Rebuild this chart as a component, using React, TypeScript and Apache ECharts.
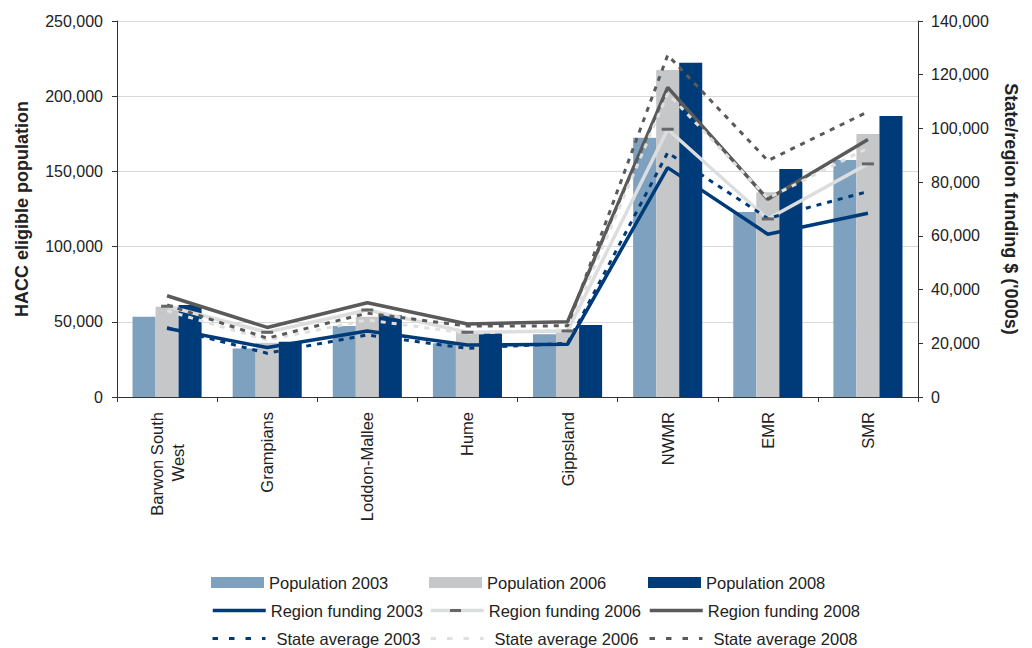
import React, { useEffect, useRef } from "react";
import * as echarts from "echarts";

const categories = ["Barwon South\nWest", "Grampians", "Loddon-Mallee", "Hume", "Gippsland", "NWMR", "EMR", "SMR"];

const pop2003 = [53300, 32300, 47200, 35700, 41700, 172400, 123000, 157600];
const pop2006 = [60000, 36000, 53400, 43400, 44000, 217400, 136100, 174900];
const pop2008 = [61200, 36700, 54500, 43400, 47900, 222300, 151600, 186800];

const region2003 = [25600, 18400, 24600, 19400, 19600, 85400, 60600, 68400];
const region2006 = [33800, 24100, 32400, 24100, 24600, 99700, 66300, 86800];
const region2008 = [37700, 25900, 35100, 27200, 28000, 115300, 73600, 95900];

const state2003 = [25800, 16300, 23100, 18100, 20000, 91000, 66500, 76500];
const state2006 = [32100, 21200, 28700, 23700, 25000, 113000, 74000, 92700];
const state2008 = [34300, 21900, 31200, 26400, 26500, 127300, 88000, 106200];

const leftTicks = { min: 0, max: 250000, interval: 50000 };
const rightTicks = { min: 0, max: 140000, interval: 20000 };

const FONT = "'Liberation Sans', Arial, sans-serif";
const C_LBLUE = "#7fa1c0";
const C_GRAY = "#c6c7c9";
const C_DBLUE = "#003b79";
const C_DGRAY = "#5a5a5a";
const C_LGRAY = "#dcdddf";
const NBSP = "\u00a0";

export default function App() {
  const ref = useRef<HTMLDivElement>(null);
  useEffect(() => {
    if (!ref.current) return;
    const chart = echarts.init(ref.current, null, { renderer: "svg" });
    const fmt = (v: number) => v.toLocaleString("en-US");
    const cols = [211, 429, 648];
    const rows = [574, 602, 630];
    const legendDefs = [
      { name: "Population 2003", c: 0, r: 0, kind: "bar" },
      { name: "Population 2006", c: 1, r: 0, kind: "bar" },
      { name: "Population 2008", c: 2, r: 0, kind: "bar" },
      { name: "Region funding 2003", c: 0, r: 1, kind: "solid" },
      { name: "Region funding 2006", c: 1, r: 1, kind: "solid" },
      { name: "Region funding 2008", c: 2, r: 1, kind: "solid" },
      { name: "State average 2003", c: 0, r: 2, kind: "dash" },
      { name: "State average 2006", c: 1, r: 2, kind: "dash" },
      { name: "State average 2008", c: 2, r: 2, kind: "dash" },
    ];
    const legends = legendDefs.map((d) => {
      const base: any = {
        left: cols[d.c],
        top: rows[d.r],
        padding: 0,
        itemWidth: 53,
        itemGap: 0,
        textStyle: {
          fontFamily: FONT,
          fontSize: 16.5,
          color: "#222",
          padding: d.kind === "dash" ? [0, 0, 0, 6] : [0, 0, 0, 0],
        },
        selectedMode: false,
      };
      if (d.kind === "bar") {
        return { ...base, data: [{ name: d.name, icon: "rect" }], itemHeight: 11 };
      }
      return {
        ...base,
        data: [{ name: d.name }],
        itemHeight: 14,
        itemStyle: { color: "transparent", borderWidth: 0, opacity: 0 },
        lineStyle: d.kind === "dash" ? { type: [5.5, 11], width: 3 } : { width: 3.5 },
      };
    });
    const lineSeries = (name: string, data: number[], color: string, type: any, width: number) => ({
      name,
      type: "line",
      yAxisIndex: 1,
      data,
      symbol: "none",
      lineStyle: { color, width, type },
      itemStyle: { color },
    });
    chart.setOption({
      animation: false,
      textStyle: { fontFamily: FONT },
      grid: { left: 117, right: 114, top: 21, bottom: 251 },
      legend: legends,
      graphic: [
        { type: "rect", left: 450, top: 609, shape: { width: 11, height: 3 }, style: { fill: "#666666" }, z: 100 },
      ],
      xAxis: {
        type: "category",
        data: categories,
        axisLine: { lineStyle: { color: "#333", width: 1 } },
        axisTick: { show: true, alignWithLabel: false, length: 5, lineStyle: { color: "#333" } },
        axisLabel: {
          rotate: 90,
          fontSize: 16.5,
          color: "#222",
          margin: 15,
          fontFamily: FONT,
          interval: 0,
          lineHeight: 21,
          formatter: (v: string) => {
            if (v.indexOf("\n") >= 0) {
              const parts = v.split("\n");
              return parts[0] + "\n" + parts[1] + NBSP.repeat(7);
            }
            return v;
          },
        },
      },
      yAxis: [
        {
          type: "value",
          ...leftTicks,
          position: "left",
          name: "HACC eligible population",
          nameLocation: "middle",
          nameRotate: 90,
          nameGap: 86,
          nameTextStyle: { fontSize: 18, fontWeight: "bold", color: "#222", fontFamily: FONT },
          axisLine: { show: true, lineStyle: { color: "#333" } },
          axisTick: { show: true, length: 5, lineStyle: { color: "#333" } },
          axisLabel: { formatter: fmt, fontSize: 16, color: "#222", margin: 14, fontFamily: FONT },
          splitLine: { show: true, lineStyle: { color: "#d9d9d9", width: 1 } },
        },
        {
          type: "value",
          ...rightTicks,
          position: "right",
          name: "State/region funding $ ('000s)",
          nameLocation: "middle",
          nameRotate: -90,
          nameGap: 84,
          nameTextStyle: { fontSize: 18, fontWeight: "bold", color: "#222", fontFamily: FONT },
          axisLine: { show: true, lineStyle: { color: "#333" } },
          axisTick: { show: true, length: 5, lineStyle: { color: "#333" } },
          axisLabel: { formatter: fmt, fontSize: 16, color: "#222", margin: 13, fontFamily: FONT },
          splitLine: { show: false },
        },
      ],
      series: [
        { name: "Population 2003", type: "bar", data: pop2003, itemStyle: { color: C_LBLUE }, barGap: "0%", barCategoryGap: "31%" },
        { name: "Population 2006", type: "bar", data: pop2006, itemStyle: { color: C_GRAY }, barGap: "0%", barCategoryGap: "31%" },
        { name: "Population 2008", type: "bar", data: pop2008, itemStyle: { color: C_DBLUE }, barGap: "0%", barCategoryGap: "31%" },
        lineSeries("Region funding 2003", region2003, C_DBLUE, "solid", 3.5),
        {
          name: "Region funding 2006",
          type: "line",
          yAxisIndex: 1,
          data: region2006,
          symbol: "rect",
          symbolSize: [12, 3],
          showSymbol: true,
          lineStyle: { color: C_LGRAY, width: 3.5, type: "solid" },
          itemStyle: { color: "#666666" },
        },
        lineSeries("Region funding 2008", region2008, C_DGRAY, "solid", 3.5),
        lineSeries("State average 2003", state2003, C_DBLUE, [5, 6], 3),
        lineSeries("State average 2006", state2006, "#e0e0e0", [5, 6], 3),
        lineSeries("State average 2008", state2008, C_DGRAY, [5, 6], 3),
      ],
    });
    return () => chart.dispose();
  }, []);
  return <div ref={ref} style={{ width: 1032, height: 648, position: "absolute", left: 0, top: 0 }} />;
}
